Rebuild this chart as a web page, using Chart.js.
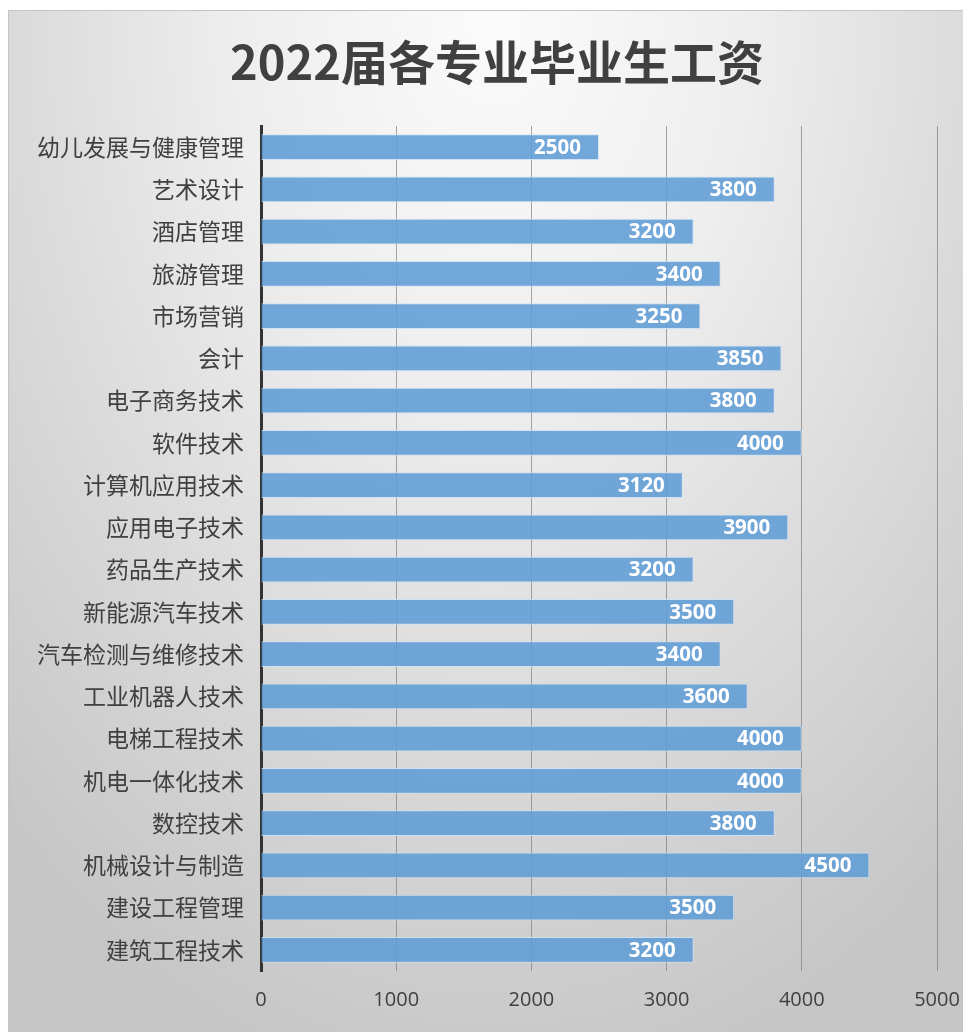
<!DOCTYPE html>
<html>
<head>
<meta charset="utf-8">
<script src="https://cdn.jsdelivr.net/npm/chart.js@4.4.1/dist/chart.umd.min.js"></script>
<style>
  html, body { margin: 0; padding: 0; background: #ffffff; width: 963px; height: 1032px; overflow: hidden; }
  #frame {
    position: absolute; left: 8px; top: 10px; width: 970px; height: 1040px;
    border-left: 1px solid #c4c4c4; border-top: 1px solid #c4c4c4;
    background: radial-gradient(ellipse 75% 105% at 50% 0%, #fbfbfb 0%, #eeeeee 35%, #d8d8d8 70%, #c6c6c6 100%);
  }
  #wrap { position: absolute; left: 0; top: 0; width: 963px; height: 1032px; }
</style>
</head>
<body>
<div id="frame"></div>
<div id="wrap"><canvas id="c" width="963" height="1032"></canvas></div>
<script>
const titleText = '2022届各专业毕业生工资';
const categories = [
  '幼儿发展与健康管理', '艺术设计', '酒店管理', '旅游管理', '市场营销', '会计',
  '电子商务技术', '软件技术', '计算机应用技术', '应用电子技术', '药品生产技术',
  '新能源汽车技术', '汽车检测与维修技术', '工业机器人技术', '电梯工程技术',
  '机电一体化技术', '数控技术', '机械设计与制造', '建设工程管理', '建筑工程技术'
];
const salaries = [
  2500, 3800, 3200, 3400, 3250, 3850, 3800, 4000, 3120, 3900,
  3200, 3500, 3400, 3600, 4000, 4000, 3800, 4500, 3500, 3200
];
const xMin = 0;
const xMax = 5000;
const xStep = 1000;

const titlePlugin = {
  id: 'titlePlugin',
  afterDraw(chart) {
    const ctx = chart.ctx;
    ctx.save();
    ctx.font = 'bold 47px "Noto Sans CJK SC", sans-serif';
    ctx.fillStyle = '#404040';
    ctx.textAlign = 'center';
    ctx.textBaseline = 'middle';
    ctx.fillText(titleText, 497, 62);
    ctx.restore();
  }
};

const valueLabels = {
  id: 'valueLabels',
  afterDatasetsDraw(chart) {
    const ctx = chart.ctx;
    const meta = chart.getDatasetMeta(0);
    ctx.save();
    ctx.font = 'bold 20.5px "Open Sans", "DejaVu Sans", sans-serif';
    ctx.fillStyle = '#ffffff';
    ctx.textAlign = 'right';
    ctx.textBaseline = 'middle';
    meta.data.forEach((bar, i) => {
      ctx.fillText(String(chart.data.datasets[0].data[i]), bar.x - 18, bar.y + 1);
    });
    ctx.restore();
  }
};

new Chart(document.getElementById('c'), {
  type: 'bar',
  data: {
    labels: categories,
    datasets: [{
      data: salaries,
      backgroundColor: 'rgba(96, 156, 214, 0.88)',
      borderColor: 'rgba(205, 225, 245, 0.9)',
      borderWidth: 1,
      categoryPercentage: 1,
      barPercentage: 0.615
    }]
  },
  options: {
    indexAxis: 'y',
    responsive: false,
    animation: false,
    devicePixelRatio: 1,
    layout: { padding: { left: 0, right: 26, top: 126, bottom: 0 } },
    plugins: {
      legend: { display: false },
      tooltip: { enabled: false },
      title: { display: false }
    },
    scales: {
      x: {
        min: xMin, max: xMax,
        position: 'bottom',
        grid: { display: true, drawTicks: false, color: 'rgba(120,120,120,0.65)', lineWidth: 1 },
        border: { display: false },
        ticks: {
          stepSize: xStep,
          padding: 17,
          color: '#404040',
          font: { family: '"Open Sans", sans-serif', size: 20 },
          callback: (v) => String(v)
        },
        afterFit(scale) { scale.height = 61; scale.paddingRight = 0; scale.paddingLeft = 0; }
      },
      y: {
        grid: { display: false, drawTicks: false },
        border: { display: true, color: '#333333', width: 3 },
        ticks: {
          padding: 17,
          color: '#404040',
          font: { family: '"Noto Sans CJK SC", sans-serif', size: 23 }
        },
        afterFit(scale) { scale.width = 261; scale.paddingTop = 0; scale.paddingBottom = 0; }
      }
    }
  },
  plugins: [valueLabels, titlePlugin]
});
</script>
</body>
</html>
